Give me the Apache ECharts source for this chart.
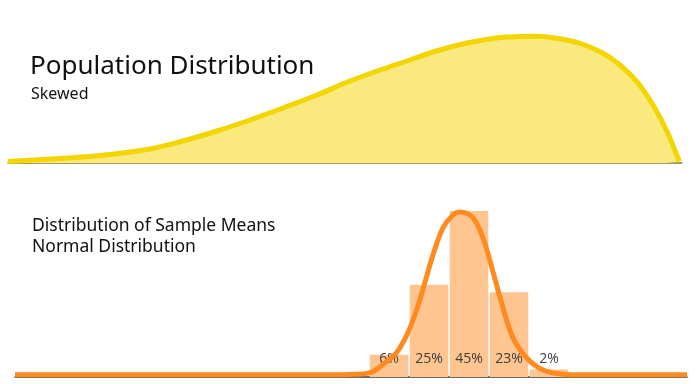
<!DOCTYPE html>
<html>
<head>
<meta charset="utf-8">
<script src="https://cdn.jsdelivr.net/npm/echarts@6/dist/echarts.min.js"></script>
<style>html,body{margin:0;padding:0;background:#fff}#c{width:700px;height:384px}</style>
</head>
<body>
<div id="c"></div>
<script>
// Population (skewed) curve: x position (0-100 scale) and height
var popX = [0, 6.23, 13.65, 21.07, 25.96, 31.01, 35.91, 40.8, 45.85, 50.74, 55.64, 59.64, 63.06, 68.1, 73, 75.96, 78.5, 80.86, 84.87, 88.28, 90.8, 93.3, 95.7, 97.8, 99.6];
var popY = [1.5, 4, 7.5, 14, 22, 32, 43, 55, 68, 82, 94, 103, 111, 120, 125.5, 126.5, 126.8, 125.3, 119.7, 109.7, 98, 81.3, 58, 31.3, 1.5];

// Sample means histogram
var binX = [1, 2, 3, 4, 5];
var binPct = [6, 25, 45, 23, 2];
var binLabels = ['6%', '25%', '45%', '23%', '2%'];

// Normal curve (same % units)
var normX = [-8.35, -5, -1, 0.03, 0.53, 0.85, 1.2, 1.48, 1.73, 1.9, 2.1, 2.35, 2.6, 2.78, 3.1, 3.35, 3.6, 3.83, 4.1, 4.45, 4.85, 5.28, 5.6, 6.3, 8.45];
var normY = [0.6, 0.6, 0.6, 0.7, 1.2, 3.4, 6.8, 12.2, 19.5, 25.7, 33.1, 40.4, 43.9, 44.7, 43.1, 37.7, 28.5, 19.5, 10.6, 5.1, 1.9, 0.8, 0.6, 0.6, 0.6];

var titles = ['Population Distribution', 'Skewed', 'Distribution of Sample Means', 'Normal Distribution'];

var FONT = '"Noto Sans"';
var chart = echarts.init(document.getElementById('c'), null, {renderer: 'canvas'});

function zip(a, b) { return a.map(function (v, i) { return [v, b[i]]; }); }

chart.setOption({
  animation: false,
  grid: [
    {left: 8, right: 18, top: 33, height: 130, containLabel: false},
    {left: 15, right: 13, top: 192.5, height: 184.5, containLabel: false}
  ],
  xAxis: [
    {gridIndex: 0, type: 'value', min: 0, max: 100,
     axisLine: {show: true, onZero: false, lineStyle: {color: '#8a7d2a', width: 1.5}},
     axisTick: {show: false}, axisLabel: {show: false}, splitLine: {show: false}},
    {gridIndex: 1, type: 'value', min: -8.35, max: 8.45,
     axisLine: {show: true, onZero: false, lineStyle: {color: '#3a3a3a', width: 1.5}},
     axisTick: {show: false}, axisLabel: {show: false}, splitLine: {show: false}}
  ],
  yAxis: [
    {gridIndex: 0, type: 'value', min: 0, max: 130, show: false},
    {gridIndex: 1, type: 'value', min: 0, max: 50, show: false}
  ],
  series: [
    {type: 'line', xAxisIndex: 0, yAxisIndex: 0, data: zip(popX, popY),
     smooth: 0.35, showSymbol: false, symbol: 'none',
     lineStyle: {color: '#F3D500', width: 5},
     areaStyle: {color: '#F9E97F', opacity: 1}, z: 2},
    {type: 'bar', xAxisIndex: 1, yAxisIndex: 1, data: zip(binX, binPct),
     barWidth: 38.5,
     itemStyle: {color: '#FEC591'},
     label: {show: true, position: 'insideBottom', distance: 11,
       formatter: function (p) { return binLabels[p.dataIndex]; },
       color: '#3d3d3d', fontSize: 14, fontFamily: 'Open Sans'}, z: 2},
    {type: 'line', xAxisIndex: 1, yAxisIndex: 1, data: zip(normX, normY),
     smooth: 0.35, showSymbol: false, symbol: 'none',
     lineStyle: {color: '#FF8A1E', width: 5}, z: 3}
  ],
  graphic: [
    {type: 'text', left: 30, top: 54, z: 10,
     style: {text: titles[0], font: '26px ' + FONT, fill: '#111'}},
    {type: 'text', left: 31, top: 86, z: 10,
     style: {text: titles[1], font: '16px ' + FONT, fill: '#111'}},
    {type: 'text', left: 32, top: 217, z: 10,
     style: {text: titles[2], font: '17.5px ' + FONT, fill: '#111'}},
    {type: 'text', left: 32, top: 238, z: 10,
     style: {text: titles[3], font: '17.5px ' + FONT, fill: '#111'}}
  ]
});
</script>
</body>
</html>
